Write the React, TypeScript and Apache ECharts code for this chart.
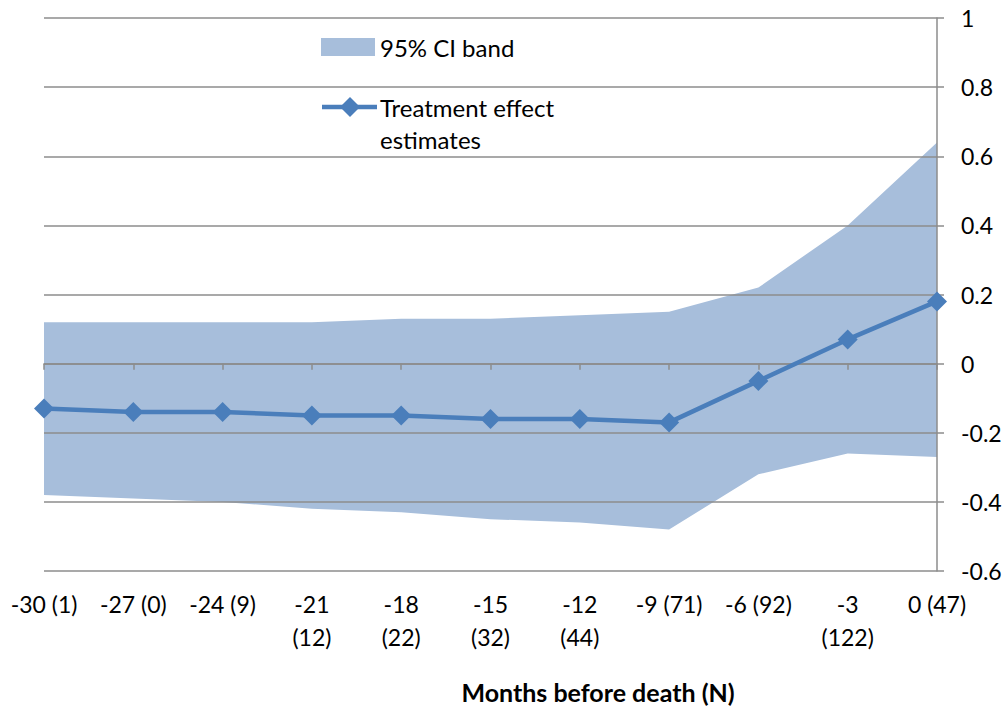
import React, { useEffect, useRef } from "react";
import * as echarts from "echarts";

const categories = [
  "-30 (1)", "-27 (0)", "-24 (9)", "-21\n(12)", "-18\n(22)", "-15\n(32)",
  "-12\n(44)", "-9 (71)", "-6 (92)", "-3\n(122)", "0 (47)",
];
const estimates = [-0.13, -0.14, -0.14, -0.15, -0.15, -0.16, -0.16, -0.17, -0.05, 0.07, 0.18];
const upperCI = [0.12, 0.12, 0.12, 0.12, 0.13, 0.13, 0.14, 0.15, 0.22, 0.40, 0.64];
const lowerCI = [-0.38, -0.39, -0.40, -0.42, -0.43, -0.45, -0.46, -0.48, -0.32, -0.26, -0.27];
const yMin = -0.6;
const yMax = 1;
const yStep = 0.2;
const xTitle = "Months before death (N)";
const bandLabel = "95% CI band";
const lineLabel = "Treatment effect\nestimates";

const FONT = "Lato, 'Open Sans', sans-serif";
const BAND = "#a7bedb";
const LINE = "#4a7ebb";
const GRID = "#8c8c8c";

export default function App() {
  const ref = useRef<HTMLDivElement>(null);
  useEffect(() => {
    if (!ref.current) return;
    const chart = echarts.init(ref.current, undefined, { renderer: "svg" });
    const bandWidth = upperCI.map((u, i) => u - lowerCI[i]);
    const lineLines = lineLabel.split("\n");
    chart.setOption({
      animation: false,
      backgroundColor: "#ffffff",
      grid: { left: 44, right: 70, top: 18, bottom: 140, containLabel: false },
      xAxis: [
        {
          type: "category",
          data: categories,
          boundaryGap: false,
          z: 3,
          axisLine: { onZero: true, lineStyle: { color: GRID, width: 1.5 } },
          axisTick: { show: true, length: 6, inside: false, lineStyle: { color: GRID, width: 1.5 } },
          axisLabel: { show: false },
          splitLine: { show: false },
        },
        {
          type: "category",
          data: categories,
          boundaryGap: false,
          position: "bottom",
          axisLine: { show: false, onZero: false },
          axisTick: { show: false },
          axisLabel: {
            show: true,
            interval: 0,
            margin: 16,
            color: "#000",
            fontFamily: FONT,
            fontSize: 23,
            lineHeight: 33,
          },
          splitLine: { show: false },
        },
      ],
      yAxis: {
        type: "value",
        position: "right",
        min: yMin,
        max: yMax,
        interval: yStep,
        z: 3,
        axisLine: { show: true, lineStyle: { color: GRID, width: 1.5 } },
        axisTick: { show: true, length: 7, lineStyle: { color: GRID, width: 1.5 } },
        axisLabel: { margin: 24, color: "#000", fontFamily: FONT, fontSize: 23 },
        splitLine: { show: true, lineStyle: { color: GRID, width: 1.5 } },
      },
      series: [
        {
          name: "lower",
          type: "line",
          data: lowerCI,
          stack: "band",
          stackStrategy: "all",
          symbol: "none",
          lineStyle: { opacity: 0 },
          z: 1,
          silent: true,
        },
        {
          name: bandLabel,
          type: "line",
          data: bandWidth,
          stack: "band",
          stackStrategy: "all",
          symbol: "none",
          lineStyle: { opacity: 0 },
          areaStyle: { color: BAND, opacity: 1 },
          z: 1,
          silent: true,
        },
        {
          name: "Treatment effect estimates",
          type: "line",
          data: estimates,
          symbol: "diamond",
          symbolSize: 20,
          itemStyle: { color: LINE },
          lineStyle: { color: LINE, width: 4.5 },
          z: 5,
        },
      ],
      graphic: [
        { type: "rect", shape: { x: 321, y: 38, width: 54, height: 18 }, style: { fill: BAND } },
        {
          type: "text",
          x: 380,
          y: 47,
          style: { text: bandLabel, fill: "#000", font: `24px ${FONT}`, verticalAlign: "middle" },
        },
        { type: "line", shape: { x1: 322, y1: 107, x2: 377, y2: 107 }, style: { stroke: LINE, lineWidth: 4.5 } },
        {
          type: "polygon",
          shape: { points: [[350, 97], [360, 107], [350, 117], [340, 107]] },
          style: { fill: LINE },
        },
        {
          type: "text",
          x: 380,
          y: 107,
          style: { text: lineLines[0], fill: "#000", font: `24px ${FONT}`, verticalAlign: "middle" },
        },
        {
          type: "text",
          x: 380,
          y: 139,
          style: { text: lineLines[1], fill: "#000", font: `24px ${FONT}`, verticalAlign: "middle" },
        },
        {
          type: "text",
          x: 598,
          y: 692,
          style: {
            text: xTitle,
            fill: "#000",
            font: `bold 25px ${FONT}`,
            align: "center",
            verticalAlign: "middle",
          },
        },
      ],
    });
    return () => chart.dispose();
  }, []);
  return <div ref={ref} style={{ width: 1007, height: 711, position: "absolute", left: 0, top: 0 }} />;
}
